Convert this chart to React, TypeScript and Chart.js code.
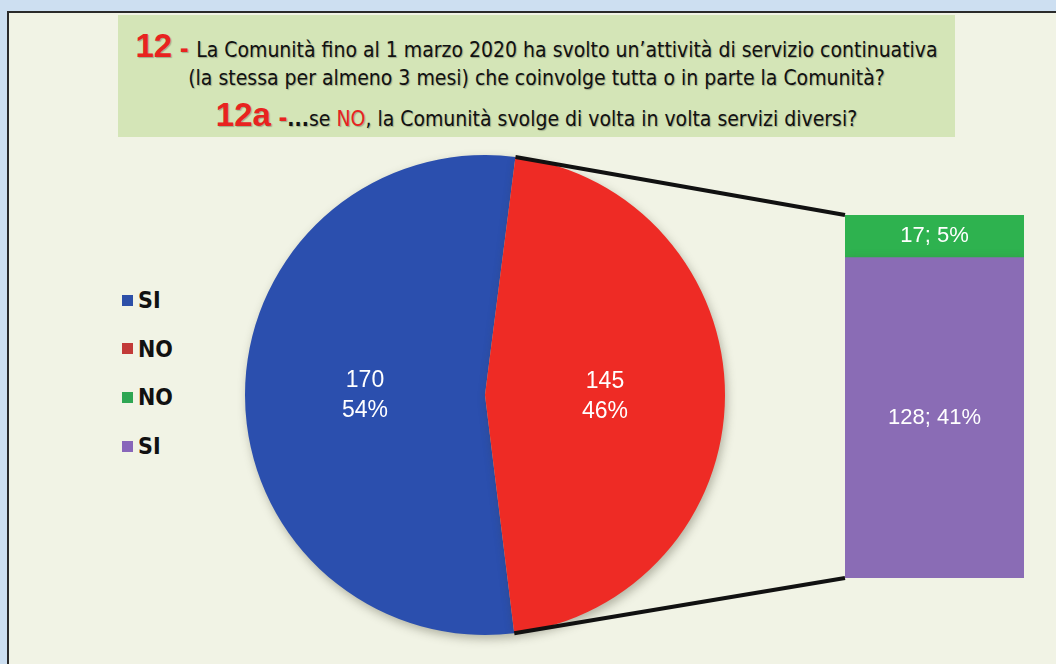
import React, { useEffect, useRef } from "react";
import { Chart, registerables } from "chart.js";

Chart.register(...registerables);

// ---- data ----
const pieLabels = ["SI", "NO"];
const pieValues = [170, 145];
const piePercents = ["54%", "46%"];
const pieColors = ["#2b4fae", "#ee2b25"];

const barLabels = ["SI", "NO"]; // stacked bottom -> top
const barValues = [128, 17];
const barPercents = ["41%", "5%"];
const barColors = ["#8a6cb5", "#2eb24f"];

const legendLabels = ["SI", "NO", "NO", "SI"];
const legendColors = ["#2d4fa8", "#c23a38", "#2ea653", "#8866ba"];

const NARROW = '"Liberation Sans Narrow", "Arial Narrow", "DejaVu Sans Condensed", sans-serif';
const SANS = '"Liberation Sans", Arial, sans-serif';

const PIE_BOX = { left: 225, top: 135, size: 520 };
const BAR_BOX = { left: 837, top: 207, width: 195, height: 379 };

const shadowPlugin = {
  id: "softShadow",
  beforeDatasetsDraw(chart: any) {
    const ctx = chart.ctx;
    ctx.save();
    ctx.shadowColor = "rgba(60,60,40,0.35)";
    ctx.shadowBlur = 10;
    ctx.shadowOffsetX = 2;
    ctx.shadowOffsetY = 4;
  },
  afterDatasetsDraw(chart: any) {
    chart.ctx.restore();
  },
};

export default function App() {
  const pieRef = useRef<HTMLCanvasElement | null>(null);
  const barRef = useRef<HTMLCanvasElement | null>(null);
  const lineRef = useRef<HTMLCanvasElement | null>(null);

  useEffect(() => {
    if (!pieRef.current || !barRef.current || !lineRef.current) return;

    const pieLabelPlugin = {
      id: "pieLabels",
      afterDatasetsDraw(chart: any) {
        const ctx = chart.ctx;
        const meta = chart.getDatasetMeta(0);
        ctx.save();
        ctx.fillStyle = "#ffffff";
        ctx.font = `23px ${SANS}`;
        ctx.textAlign = "center";
        ctx.textBaseline = "middle";
        meta.data.forEach((arc: any, i: number) => {
          const p = arc.tooltipPosition();
          ctx.fillText(String(pieValues[i]), p.x, p.y - 14);
          ctx.fillText(piePercents[i], p.x, p.y + 16);
        });
        ctx.restore();
      },
    };

    const barLabelPlugin = {
      id: "barLabels",
      afterDatasetsDraw(chart: any) {
        const ctx = chart.ctx;
        ctx.save();
        ctx.fillStyle = "#ffffff";
        ctx.font = `22px ${SANS}`;
        ctx.textAlign = "center";
        ctx.textBaseline = "middle";
        chart.data.datasets.forEach((_: any, di: number) => {
          const el: any = chart.getDatasetMeta(di).data[0];
          ctx.fillText(`${barValues[di]}; ${barPercents[di]}`, el.x, (el.y + el.base) / 2);
        });
        ctx.restore();
      },
    };

    const pie = new Chart(pieRef.current, {
      type: "pie",
      data: {
        labels: pieLabels,
        datasets: [
          {
            data: pieValues,
            backgroundColor: pieColors,
            borderWidth: 0,
          },
        ],
      },
      options: {
        responsive: false,
        animation: false,
        rotation: 173,
        layout: { padding: 20 },
        plugins: { legend: { display: false }, tooltip: { enabled: false } },
      },
      plugins: [shadowPlugin, pieLabelPlugin],
    } as any);

    const bar = new Chart(barRef.current, {
      type: "bar",
      data: {
        labels: [""],
        datasets: barValues.map((v, i) => ({
          label: barLabels[i],
          data: [v],
          backgroundColor: barColors[i],
          borderWidth: 0,
          barPercentage: 1,
          categoryPercentage: 1,
          stack: "s",
        })),
      },
      options: {
        responsive: false,
        animation: false,
        layout: { padding: 8 },
        scales: {
          x: { stacked: true, display: false },
          y: { stacked: true, display: false, min: 0, max: barValues[0] + barValues[1] },
        },
        plugins: { legend: { display: false }, tooltip: { enabled: false } },
      },
      plugins: [shadowPlugin, barLabelPlugin],
    } as any);

    // connector lines computed from chart elements
    const lc = lineRef.current;
    const lctx = lc.getContext("2d")!;
    lctx.clearRect(0, 0, lc.width, lc.height);
    const redArc: any = pie.getDatasetMeta(0).data[1];
    const topBar: any = bar.getDatasetMeta(1).data[0];
    const botBar: any = bar.getDatasetMeta(0).data[0];
    const r = redArc.outerRadius;
    const px = PIE_BOX.left + redArc.x;
    const py = PIE_BOX.top + redArc.y;
    const p1 = { x: px + r * Math.cos(redArc.startAngle), y: py + r * Math.sin(redArc.startAngle) };
    const p2 = { x: px + r * Math.cos(redArc.endAngle), y: py + r * Math.sin(redArc.endAngle) };
    const b1 = { x: BAR_BOX.left + topBar.x - topBar.width / 2, y: BAR_BOX.top + topBar.y };
    const b2 = { x: BAR_BOX.left + botBar.x - botBar.width / 2, y: BAR_BOX.top + botBar.base };
    lctx.strokeStyle = "#111111";
    lctx.lineWidth = 4;
    lctx.lineCap = "butt";
    lctx.beginPath();
    lctx.moveTo(p1.x, p1.y);
    lctx.lineTo(b1.x, b1.y);
    lctx.moveTo(p2.x, p2.y);
    lctx.lineTo(b2.x, b2.y);
    lctx.stroke();

    return () => {
      pie.destroy();
      bar.destroy();
    };
  }, []);

  const titleShadow = "1px 1px 1px rgba(0,0,0,0.25)";

  return (
    <div
      style={{
        position: "fixed",
        left: 0,
        top: 0,
        width: 1056,
        height: 664,
        overflow: "hidden",
        background: "#cddff1",
      }}
    >
      <div
        style={{
          position: "absolute",
          left: 7,
          top: 11,
          width: 1100,
          height: 720,
          border: "2px solid #2a2a2a",
          background: "#f1f3e5",
        }}
      />
      {/* title box */}
      <div
        style={{
          position: "absolute",
          left: 118,
          top: 15,
          width: 837,
          height: 122,
          background: "#d4e5b7",
          fontFamily: NARROW,
          color: "#111",
          textAlign: "center",
          textShadow: titleShadow,
        }}
      >
        <div style={{ position: "absolute", left: 0, right: 0, top: 14, lineHeight: "34px", fontSize: 21 }}>
          <span style={{ color: "#e8231f", fontSize: 33, fontWeight: "bold", fontFamily: SANS }}>12</span>
          <span style={{ color: "#e8231f", fontWeight: "bold", fontSize: 24 }}> - </span>
          La Comunità fino al 1 marzo 2020 ha svolto un’attività di servizio continuativa
        </div>
        <div style={{ position: "absolute", left: 0, right: 0, top: 48, lineHeight: "30px", fontSize: 21 }}>
          (la stessa per almeno 3 mesi) che coinvolge tutta o in parte la Comunità?
        </div>
        <div style={{ position: "absolute", left: 0, right: 0, top: 83, lineHeight: "34px", fontSize: 21 }}>
          <span style={{ color: "#e8231f", fontSize: 33, fontWeight: "bold", fontFamily: SANS }}>12a</span>
          <span style={{ color: "#e8231f", fontWeight: "bold", fontSize: 24 }}> -</span>
          <span style={{ fontWeight: "bold" }}>...</span>
          se <span style={{ color: "#e8231f" }}>NO</span>, la Comunità svolge di volta in volta servizi diversi?
        </div>
      </div>

      {/* legend */}
      {legendLabels.map((lab, i) => (
        <div
          key={i}
          style={{
            position: "absolute",
            left: 122,
            top: 300 + i * 48.7 - 14,
            height: 28,
            display: "flex",
            alignItems: "center",
            fontFamily: NARROW,
            fontWeight: "bold",
            fontSize: 23,
            color: "#111",
          }}
        >
          <span
            style={{
              display: "inline-block",
              width: 11,
              height: 11,
              background: legendColors[i],
              marginRight: 5,
            }}
          />
          {lab}
        </div>
      ))}

      <canvas
        ref={pieRef}
        width={PIE_BOX.size}
        height={PIE_BOX.size}
        style={{ position: "absolute", left: PIE_BOX.left, top: PIE_BOX.top, width: PIE_BOX.size, height: PIE_BOX.size }}
      />
      <canvas
        ref={barRef}
        width={BAR_BOX.width}
        height={BAR_BOX.height}
        style={{
          position: "absolute",
          left: BAR_BOX.left,
          top: BAR_BOX.top,
          width: BAR_BOX.width,
          height: BAR_BOX.height,
        }}
      />
      <canvas
        ref={lineRef}
        width={1056}
        height={664}
        style={{ position: "absolute", left: 0, top: 0, width: 1056, height: 664, pointerEvents: "none" }}
      />
    </div>
  );
}
